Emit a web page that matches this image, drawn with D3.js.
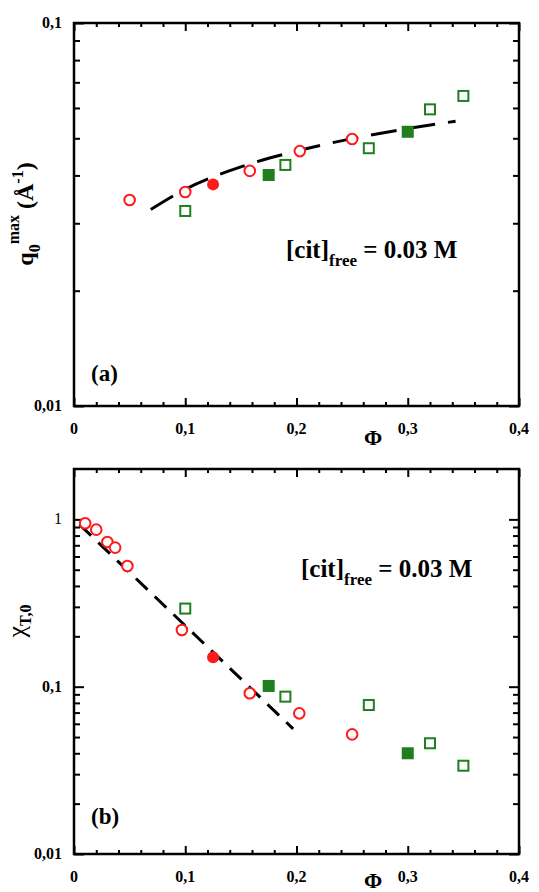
<!DOCTYPE html>
<html><head><meta charset="utf-8">
<script src="https://cdn.jsdelivr.net/npm/d3@7"></script>
<style>
body{margin:0;background:#fff;}
svg text{font-family:"Liberation Serif","Times New Roman",serif;}
</style></head>
<body><svg id="c" width="539" height="892"></svg>
<script>
// ---------- data ----------
const xTickValues = [0, 0.1, 0.2, 0.3, 0.4];
const xTickLabels = ["0", "0,1", "0,2", "0,3", "0,4"];
const xMinorTicks = [0.02,0.04,0.06,0.08,0.12,0.14,0.16,0.18,0.22,0.24,0.26,0.28,0.32,0.34,0.36,0.38];

// panel (a): q0max vs Phi
const aYTickValues = [0.01, 0.1];
const aYTickLabels = ["0,01", "0,1"];
const aYMinor = [0.02,0.03,0.04,0.05,0.06,0.07,0.08,0.09];
const aOpenCircles = [[0.05,0.0345],[0.1,0.0362],[0.158,0.0411],[0.203,0.0463],[0.25,0.0498]];
const aFilledCircles = [[0.125,0.0379]];
const aOpenSquares = [[0.1,0.0323],[0.19,0.0426],[0.265,0.0471],[0.32,0.0595],[0.35,0.0645]];
const aFilledSquares = [[0.175,0.0401],[0.3,0.052]];
const aFit = [[0.069,0.0326],[0.10,0.0368],[0.15,0.0421],[0.20,0.0463],[0.25,0.0499],[0.30,0.0530],[0.343,0.0554]];

// panel (b): chi_T,0 vs Phi
const bYTickValues = [0.01, 0.1, 1];
const bYTickLabels = ["0,01", "0,1", "1"];
const bYMinor = [0.02,0.03,0.04,0.05,0.06,0.07,0.08,0.09,0.2,0.3,0.4,0.5,0.6,0.7,0.8,0.9];
const bOpenCircles = [[0.01,0.948],[0.02,0.868],[0.03,0.733],[0.037,0.678],[0.048,0.526],[0.097,0.218],[0.158,0.0913],[0.2025,0.0693],[0.25,0.0519]];
const bFilledCircles = [[0.125,0.15]];
const bOpenSquares = [[0.1,0.293],[0.19,0.0872],[0.265,0.0777],[0.32,0.0459],[0.35,0.0337]];
const bFilledSquares = [[0.175,0.101],[0.3,0.040]];
const bFit = [[0.005,0.93],[0.197,0.056]];

// ---------- drawing ----------
const RED = "#ff1a1a", GREEN = "#1f7f1f";
const svg = d3.select("#c");
const x = d3.scaleLinear().domain([0, 0.4]).range([74, 519]);

function panel(o) {
  const y = d3.scaleLog().domain(o.yDomain).range([o.bottom, o.top]);
  const g = svg.append("g");
  const tickStyle = s => s.call(a => a.select(".domain").remove())
                          .selectAll("line").attr("stroke", "#000").attr("stroke-width", 2);
  g.append("g").attr("transform", `translate(0,${o.bottom})`)
    .call(d3.axisBottom(x).tickValues(xTickValues).tickSize(-8).tickFormat("")).call(tickStyle);
  g.append("g").attr("transform", `translate(0,${o.bottom})`)
    .call(d3.axisBottom(x).tickValues(xMinorTicks).tickSize(-4).tickFormat("")).call(tickStyle);
  g.append("g").attr("transform", `translate(0,${o.top})`)
    .call(d3.axisTop(x).tickValues(xTickValues).tickSize(-8).tickFormat("")).call(tickStyle);
  g.append("g").attr("transform", `translate(0,${o.top})`)
    .call(d3.axisTop(x).tickValues(xMinorTicks).tickSize(-4).tickFormat("")).call(tickStyle);
  g.append("g").attr("transform", `translate(74,0)`)
    .call(d3.axisLeft(y).tickValues(o.yTicks).tickSize(-10).tickFormat("")).call(tickStyle);
  g.append("g").attr("transform", `translate(74,0)`)
    .call(d3.axisLeft(y).tickValues(o.yMinor).tickSize(-6).tickFormat("")).call(tickStyle);
  g.append("g").attr("transform", `translate(519,0)`)
    .call(d3.axisRight(y).tickValues(o.yTicks).tickSize(-10).tickFormat("")).call(tickStyle);
  g.append("g").attr("transform", `translate(519,0)`)
    .call(d3.axisRight(y).tickValues(o.yMinor).tickSize(-6).tickFormat("")).call(tickStyle);
  g.append("rect").attr("x", 74).attr("y", o.top).attr("width", 445).attr("height", o.bottom - o.top)
    .attr("fill", "none").attr("stroke", "#000").attr("stroke-width", 2.5);
  g.selectAll(".xl").data(xTickValues).enter().append("text")
    .attr("x", d => x(d)).attr("y", o.bottom + 28).attr("text-anchor", "middle")
    .attr("font-size", 16).attr("font-weight", "bold").text((d, i) => xTickLabels[i]);
  g.selectAll(".yl").data(o.yTicks).enter().append("text")
    .attr("x", 62).attr("y", d => y(d) + 5).attr("text-anchor", "end")
    .attr("font-size", 16).attr("font-weight", (d, i) => o.yLabels[i] === "1" ? "normal" : "bold")
    .text((d, i) => o.yLabels[i]);
  g.append("text").attr("x", 373).attr("y", o.bottom + o.phiDy).attr("text-anchor", "middle")
    .attr("font-size", 22).attr("font-weight", "bold").text("Φ");
  g.append("path").datum(o.fit)
    .attr("d", d3.line().x(d => x(d[0])).y(d => y(d[1])).curve(d3.curveMonotoneX))
    .attr("fill", "none").attr("stroke", "#000").attr("stroke-width", 3).attr("stroke-dasharray", o.dash);
  g.selectAll(".oc").data(o.openCircles).enter().append("circle")
    .attr("cx", d => x(d[0])).attr("cy", d => y(d[1])).attr("r", 5.3)
    .attr("fill", "#fff").attr("stroke", RED).attr("stroke-width", 2);
  g.selectAll(".fc").data(o.filledCircles).enter().append("circle")
    .attr("cx", d => x(d[0])).attr("cy", d => y(d[1])).attr("r", 6).attr("fill", RED);
  g.selectAll(".os").data(o.openSquares).enter().append("rect")
    .attr("x", d => x(d[0]) - 5).attr("y", d => y(d[1]) - 5).attr("width", 10).attr("height", 10)
    .attr("fill", "#fff").attr("stroke", GREEN).attr("stroke-width", 2);
  g.selectAll(".fs").data(o.filledSquares).enter().append("rect")
    .attr("x", d => x(d[0]) - 6).attr("y", d => y(d[1]) - 6).attr("width", 12).attr("height", 12)
    .attr("fill", GREEN);
  const t = g.append("text").attr("x", o.annX).attr("y", o.annY).attr("font-size", 25).attr("font-weight", "bold");
  t.append("tspan").text("[cit]");
  t.append("tspan").attr("dy", 8).attr("font-size", 17).text("free");
  t.append("tspan").attr("dy", -8).text(" = 0.03 M");
  g.append("text").attr("x", 91).attr("y", o.letterY).attr("font-size", 23).attr("font-weight", "bold").text(o.letter);
  return y;
}

panel({top: 23, bottom: 406, yDomain: [0.01, 0.1], yTicks: aYTickValues, yLabels: aYTickLabels, yMinor: aYMinor,
  openCircles: aOpenCircles, filledCircles: aFilledCircles, openSquares: aOpenSquares, filledSquares: aFilledSquares,
  fit: aFit, dash: "26,13", annX: 286, annY: 258, letter: "(a)", letterY: 381, phiDy: 39});

panel({top: 469, bottom: 854, yDomain: [0.01, 2], yTicks: bYTickValues, yLabels: bYTickLabels, yMinor: bYMinor,
  openCircles: bOpenCircles, filledCircles: bFilledCircles, openSquares: bOpenSquares, filledSquares: bFilledSquares,
  fit: bFit, dash: "16,10", annX: 301, annY: 577, letter: "(b)", letterY: 824, phiDy: 34});

// y-axis titles
const ya = svg.append("text").attr("transform", "translate(33,214) rotate(-90)")
  .attr("text-anchor", "middle").attr("font-size", 24).attr("font-weight", "bold");
ya.append("tspan").text("q");
ya.append("tspan").attr("dy", 7).attr("font-size", 16).text("0");
ya.append("tspan").attr("dy", -21).attr("font-size", 16).text("max");
ya.append("tspan").attr("dy", 14).text(" (Å");
ya.append("tspan").attr("dy", -10).attr("font-size", 16).text("-1");
ya.append("tspan").attr("dy", 10).text(")");

const yb = svg.append("text").attr("transform", "translate(25,621) rotate(-90)")
  .attr("text-anchor", "middle").attr("font-size", 26);
yb.append("tspan").text("χ");
yb.append("tspan").attr("dy", 6).attr("font-size", 16).attr("font-weight", "bold").text("T,0");
</script></body></html>
